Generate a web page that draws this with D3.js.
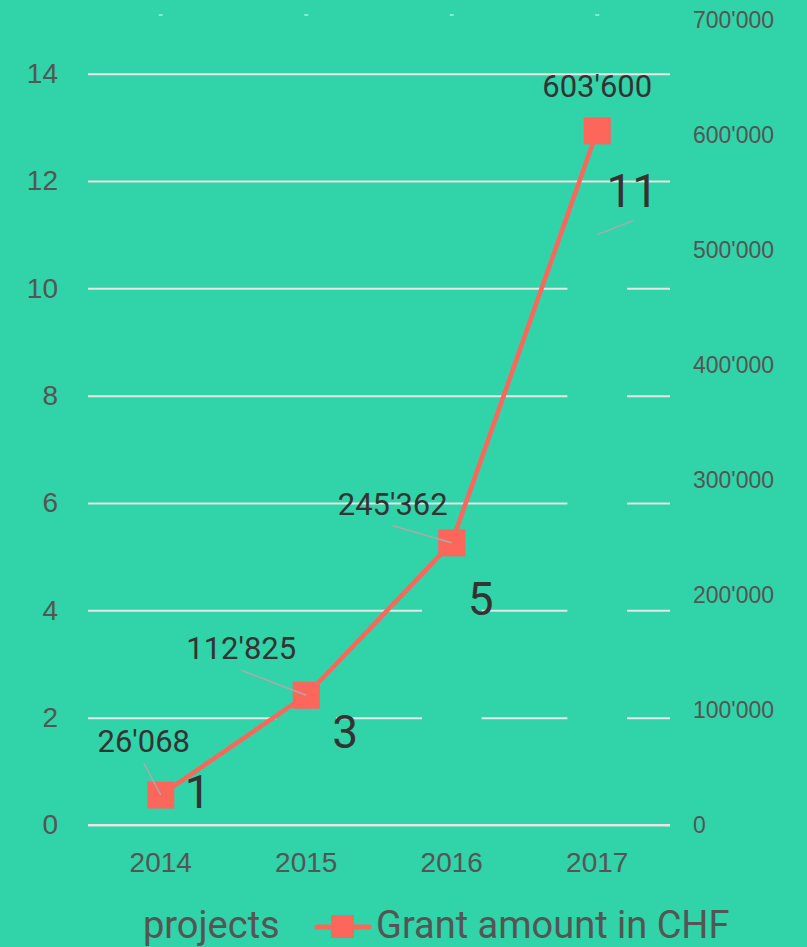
<!DOCTYPE html>
<html>
<head>
<meta charset="utf-8">
<script src="https://cdn.jsdelivr.net/npm/d3@7"></script>
<style>
  html, body { margin: 0; padding: 0; background: #31d3a8; }
  svg { display: block; font-family: Roboto, "Noto Sans", sans-serif; }
</style>
</head>
<body>
<div id="chart"></div>
<script>
// data
const years = ["2014", "2015", "2016", "2017"];
const projects = [1, 3, 5, 11];
const grants = [26068, 112825, 245362, 603600];
const leftTicks = [0, 2, 4, 6, 8, 10, 12, 14];
const rightTicks = [0, 100000, 200000, 300000, 400000, 500000, 600000, 700000];

// label placement (dragged labels in the original)
const grantLabelOffset = [[-17, -43], [-65, -36], [-59, -28], [0, -34]];
const grantConnector = [true, true, true, false];
const projectLabelOffset = [[37, 37], [39, 84], [29, 58], [35, -28]];
const projectConnector = [false, false, false, true];

const width = 807;
const height = 947;
const bg = "#31d3a8";
const red = "#fd665b";
const margin = { top: 20, right: 137, bottom: 122, left: 88 };

const svg = d3.select("#chart")
    .append("svg")
    .attr("width", width)
    .attr("height", height)
    .style("background-color", bg);

const fmt = d3.formatLocale({ decimal: ".", thousands: "'", grouping: [3], currency: ["", ""] }).format(",");

const x = d3.scaleBand()
    .domain(years)
    .range([margin.left, width - margin.right]);

const yL = d3.scaleLinear()
    .domain([0, 15])
    .range([height - margin.bottom, margin.top]);

const yR = d3.scaleLinear()
    .domain([0, 700000])
    .range([height - margin.bottom, margin.top]);

const cx = d => x(d) + x.bandwidth() / 2;
const plotW = width - margin.right - margin.left;

// left axis + gridlines
const gLeft = svg.append("g")
    .attr("transform", `translate(${margin.left},0)`)
    .call(d3.axisLeft(yL).tickValues(leftTicks).tickSizeInner(-plotW).tickSizeOuter(0).tickPadding(30));
gLeft.select(".domain").remove();
gLeft.selectAll("line").attr("stroke", "#e6e6e6").attr("stroke-width", 2);
gLeft.selectAll("text").attr("fill", "#555").style("font-size", "28px").attr("font-family", null);

// right axis
const gRight = svg.append("g")
    .attr("transform", `translate(${width - margin.right},0)`)
    .call(d3.axisRight(yR).tickValues(rightTicks).tickSize(0).tickPadding(23).tickFormat(fmt));
gRight.select(".domain").remove();
gRight.selectAll("text").attr("fill", "#555").style("font-size", "23px").attr("font-family", null);

// bottom axis
const gBottom = svg.append("g")
    .attr("transform", `translate(0,${height - margin.bottom})`)
    .call(d3.axisBottom(x).tickSize(0).tickPadding(27));
gBottom.select(".domain").remove();
gBottom.selectAll("text").attr("fill", "#555").style("font-size", "28px").attr("font-family", null);

// small top tick marks
svg.selectAll(".top-tick")
    .data(years)
    .enter()
    .append("rect")
    .attr("class", "top-tick")
    .attr("x", d => cx(d) - 2)
    .attr("y", 14)
    .attr("width", 4)
    .attr("height", 2)
    .attr("fill", "rgba(255,255,255,0.45)");

// project bars (same colour as background)
const barW = x.bandwidth() * 0.41;
svg.selectAll(".bar")
    .data(years)
    .enter()
    .append("rect")
    .attr("class", "bar")
    .attr("x", d => cx(d) - barW / 2)
    .attr("y", (d, i) => yL(projects[i]))
    .attr("width", barW)
    .attr("height", (d, i) => yL(0) - yL(projects[i]))
    .attr("fill", bg);

// zero line stays on top of the bars
svg.append("line")
    .attr("x1", margin.left).attr("x2", margin.left + plotW)
    .attr("y1", yL(0)).attr("y2", yL(0))
    .attr("stroke", "#e6e6e6").attr("stroke-width", 2);

// grant line
const line = d3.line()
    .x((d, i) => cx(years[i]))
    .y(d => yR(d));

svg.append("path")
    .datum(grants)
    .attr("d", line)
    .attr("fill", "none")
    .attr("stroke", red)
    .attr("stroke-width", 4.5)
    .attr("stroke-linejoin", "round");

const mk = 27;
svg.selectAll(".marker")
    .data(grants)
    .enter()
    .append("rect")
    .attr("class", "marker")
    .attr("x", (d, i) => cx(years[i]) - mk / 2)
    .attr("y", d => yR(d) - mk / 2)
    .attr("width", mk)
    .attr("height", mk)
    .attr("fill", red);

// grant labels
grants.forEach((g, i) => {
    const px = cx(years[i]), py = yR(g);
    const lx = px + grantLabelOffset[i][0], ly = py + grantLabelOffset[i][1];
    if (grantConnector[i]) {
        svg.append("line")
            .attr("x1", lx).attr("y1", ly + 11)
            .attr("x2", px).attr("y2", py)
            .attr("stroke", "#aaa").attr("stroke-width", 1.5);
    }
    svg.append("text")
        .attr("x", lx).attr("y", ly)
        .attr("text-anchor", "middle")
        .attr("fill", "#333")
        .style("font-size", "31px")
        .text(fmt(g));
});

// project labels
projects.forEach((p, i) => {
    const px = cx(years[i]), py = yL(p);
    const lx = px + projectLabelOffset[i][0], ly = py + projectLabelOffset[i][1];
    if (projectConnector[i]) {
        svg.append("line")
            .attr("x1", px).attr("y1", py)
            .attr("x2", lx + 1).attr("y2", ly + 14)
            .attr("stroke", "#aaa").attr("stroke-width", 1.5);
    }
    svg.append("text")
        .attr("x", lx).attr("y", ly)
        .attr("text-anchor", "middle")
        .attr("fill", "#333")
        .style("font-size", "46px")
        .text(p);
});

// legend
const legY = 927;
svg.append("rect")
    .attr("x", 113).attr("y", legY - 11)
    .attr("width", 22).attr("height", 22)
    .attr("fill", bg);
svg.append("text")
    .attr("x", 143).attr("y", legY + 11)
    .attr("fill", "#555")
    .style("font-size", "38px")
    .text("projects");
svg.append("line")
    .attr("x1", 317).attr("x2", 369)
    .attr("y1", legY).attr("y2", legY)
    .attr("stroke", red).attr("stroke-width", 5).attr("stroke-linecap", "round");
svg.append("rect")
    .attr("x", 331).attr("y", legY - 12)
    .attr("width", 23).attr("height", 23)
    .attr("fill", red);
svg.append("text")
    .attr("x", 376).attr("y", legY + 11)
    .attr("fill", "#555")
    .style("font-size", "38px")
    .text("Grant amount in CHF");
</script>
</body>
</html>
